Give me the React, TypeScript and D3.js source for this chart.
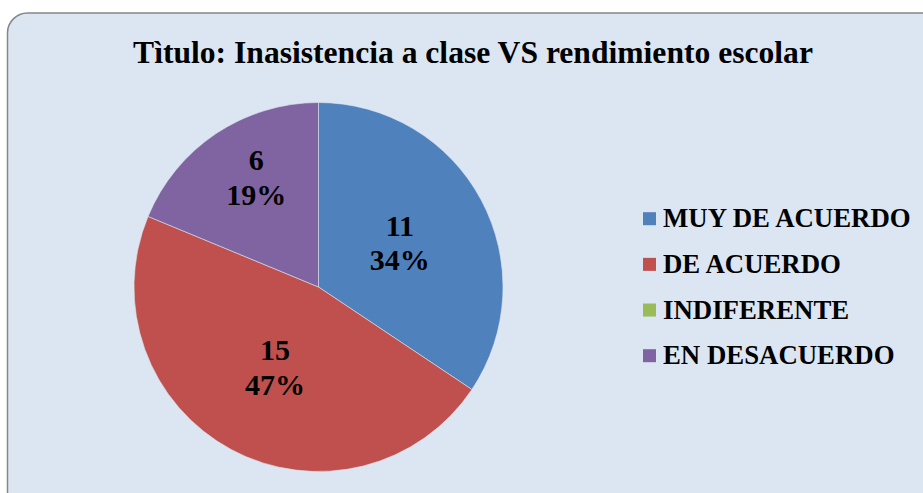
import React, { useEffect, useRef } from 'react'
import * as d3 from 'd3'

const categories = ['MUY DE ACUERDO', 'DE ACUERDO', 'INDIFERENTE', 'EN DESACUERDO']
const values = [11, 15, 0, 6]
const percents = ['34%', '47%', '0%', '19%']
const colors = ['#4f81bd', '#c0504d', '#9bbb59', '#8064a2']
const title = 'Tìtulo: Inasistencia a clase VS rendimiento escolar'

// label placement per slice: fraction of radius, and nudge of the angle (degrees)
const labelRadius = [0.5, 0.5, 0.5, 0.68]
const labelAngleShift = [0, 0, 0, 4]

export default function App() {
  const ref = useRef<SVGSVGElement>(null)

  useEffect(() => {
    const svg = d3.select(ref.current)
    svg.selectAll('*').remove()

    const width = 923
    const height = 493
    const font = '"Liberation Serif", "Times New Roman", serif'

    // chart area frame
    svg
      .append('rect')
      .attr('x', 7.5)
      .attr('y', 13)
      .attr('width', 935)
      .attr('height', 500)
      .attr('rx', 20)
      .attr('fill', '#dce6f2')
      .attr('stroke', '#868686')
      .attr('stroke-width', 1.5)

    svg
      .append('text')
      .attr('x', 473)
      .attr('y', 63.3)
      .attr('text-anchor', 'middle')
      .attr('font-family', font)
      .attr('font-weight', 'bold')
      .attr('font-size', 31.6)
      .text(title)

    const cx = 318.5
    const cy = 287
    const r = 184.5

    const pie = d3.pie<number>().sort(null).value(d => d)
    const arcs = pie(values).filter(d => d.data > 0)
    const arc = d3.arc<d3.PieArcDatum<number>>().innerRadius(0).outerRadius(r)

    const g = svg.append('g').attr('transform', `translate(${cx},${cy})`)

    g.selectAll('path')
      .data(arcs)
      .join('path')
      .attr('d', arc)
      .attr('fill', d => colors[d.index])
      .attr('stroke', '#dce6f2')
      .attr('stroke-width', 0.6)

    const labels = g
      .selectAll('text')
      .data(arcs)
      .join('text')
      .attr('text-anchor', 'middle')
      .attr('font-family', font)
      .attr('font-weight', 'bold')
      .attr('font-size', 30)
      .attr('transform', d => {
        const k = r * labelRadius[d.index]
        const a = (d.startAngle + d.endAngle) / 2 + (labelAngleShift[d.index] * Math.PI) / 180
        return `translate(${k * Math.sin(a)},${-k * Math.cos(a)})`
      })
    labels.append('tspan').attr('x', 0).attr('y', -8).text(d => String(d.data))
    labels.append('tspan').attr('x', 0).attr('y', 26.7).text(d => percents[d.index])

    // legend
    const legendY = d3.scalePoint<string>().domain(categories).range([218.7, 355.7])
    const legend = svg
      .append('g')
      .selectAll('g')
      .data(categories)
      .join('g')
      .attr('transform', d => `translate(643,${legendY(d)})`)
    legend
      .append('rect')
      .attr('x', 0)
      .attr('y', -6.5)
      .attr('width', 13)
      .attr('height', 13)
      .attr('fill', (_, i) => colors[i])
    legend
      .append('text')
      .attr('x', 20)
      .attr('y', 8.6)
      .attr('font-family', font)
      .attr('font-weight', 'bold')
      .attr('font-size', 26.8)
      .text(d => d)

    svg.attr('viewBox', `0 0 ${width} ${height}`)
  }, [])

  return (
    <svg
      ref={ref}
      width={923}
      height={493}
      style={{ position: 'absolute', left: 0, top: 0, background: '#fff' }}
    />
  )
}
